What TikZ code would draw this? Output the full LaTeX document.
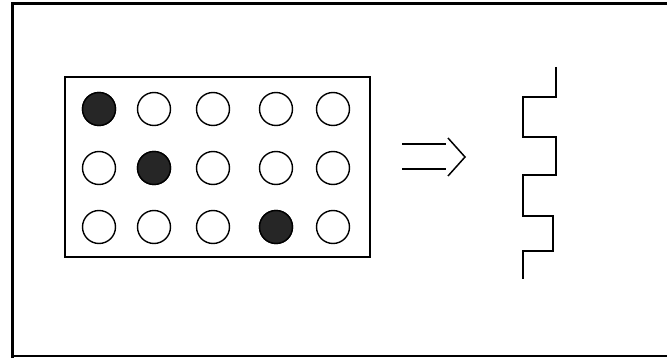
\documentclass[tikz,border=0pt]{standalone}
\begin{document}
\begin{tikzpicture}[x=1pt,y=-1pt,
  hole/.style={circle,draw=black,line width=1.4pt,minimum size=33pt,inner sep=0pt},
  punched/.style={hole,fill=black!85},
  frameline/.style={line width=3pt,line cap=rect},
  thinline/.style={line width=1.5pt}]
\useasboundingbox (0,0) rectangle (667,358);
% outer frame (right side cut off)
\draw[frameline] (667,4) -- (12,4) -- (12,356);
\draw[line width=2pt] (12,356) -- (667,356);
% card
\node[draw=black,thinline,minimum width=305pt,minimum height=180pt,inner sep=0pt] (card) at (217.5,167) {};
% holes
\foreach \c/\x in {1/99,2/154,3/213,4/276,5/333}{
  \foreach \r/\y in {1/109,2/168,3/227}{
    \node[hole] (h\r\c) at (\x,\y) {};
  }
}
\node[punched] at (h11) {};
\node[punched] at (h22) {};
\node[punched] at (h34) {};
% double arrow
\coordinate (a1) at (402,144);
\coordinate (a2) at (446,144);
\coordinate (b1) at (402,169);
\coordinate (b2) at (446,169);
\coordinate (t1) at (448,138);
\coordinate (tip) at (465,157);
\coordinate (t2) at (448,176);
\draw[thinline] (a1) -- (a2);
\draw[thinline] (b1) -- (b2);
\draw[thinline] (t1) -- (tip) -- (t2);
% pulse waveform
\draw[thinline] (556,67) -- (556,97) -- (523,97) -- (523,137) -- (556,137)
  -- (556,175) -- (523,175) -- (523,216) -- (553,216) -- (553,251)
  -- (523,251) -- (523,279);
\end{tikzpicture}
\end{document}
